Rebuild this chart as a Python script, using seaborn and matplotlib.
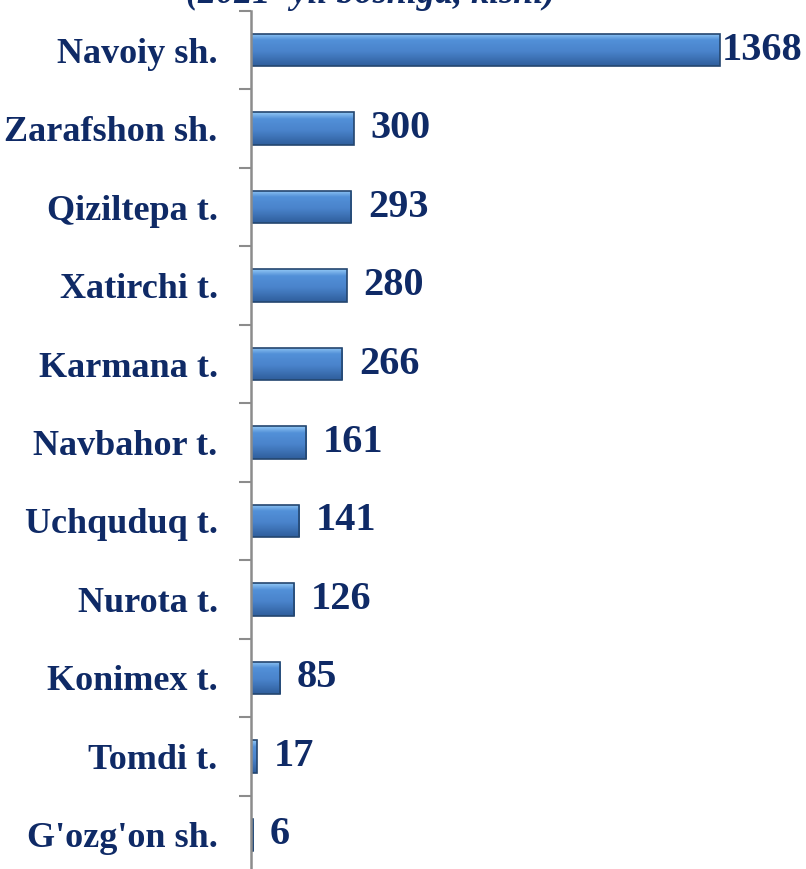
import numpy as np
import pandas as pd
import seaborn as sns
import matplotlib.pyplot as plt
from matplotlib.colors import LinearSegmentedColormap

districts = ["Navoiy sh.", "Zarafshon sh.", "Qiziltepa t.", "Xatirchi t.", "Karmana t.",
             "Navbahor t.", "Uchquduq t.", "Nurota t.", "Konimex t.", "Tomdi t.", "G'ozg'on sh."]
values = [1368, 300, 293, 280, 266, 161, 141, 126, 85, 17, 6]
title = "(2021- yil boshiga, kishi)"

df = pd.DataFrame({"district": districts, "value": values})

sns.set_style("white")
plt.rcParams['font.family'] = ['Liberation Serif', 'DejaVu Serif']
navy = "#0f2a66"

fig = plt.figure(figsize=(8.06, 8.69), dpi=100)
ax = fig.add_axes([251 / 806, -0.006, 1 - 251 / 806, 0.9936])

sns.barplot(data=df, x="value", y="district", color="#4a80c8", width=0.41,
            edgecolor="#24466f", linewidth=1.2, ax=ax)

# bevel-like gradient inside each bar (light top, darker bottom)
grad = LinearSegmentedColormap.from_list(
    "bev", [(0, "#2f5e9c"), (0.45, "#4a84cc"), (0.8, "#5290d8"), (1, "#92c8f5")])
g = np.linspace(1, 0, 64).reshape(-1, 1)
for p in ax.patches:
    x0, y0 = p.get_x(), p.get_y()
    w, h = p.get_width(), p.get_height()
    im = ax.imshow(g, cmap=grad, vmin=0, vmax=1, aspect="auto",
                   extent=(x0, x0 + w, y0 + h, y0), origin="upper",
                   zorder=p.get_zorder() + 0.1)
    im.set_clip_path(p)
    p.set_zorder(p.get_zorder() + 0.2)
    p.set_facecolor("none")

ax.set_xlim(0, 1619)
ax.set_ylim(len(districts) - 0.5, -0.5)
ax.set_xlabel("")
ax.set_ylabel("")
ax.set_xticks([])

for i, (p, v) in enumerate(zip(ax.patches, values)):
    pad = 1 if i == 0 else 12
    ax.annotate(str(v), (p.get_x() + p.get_width(), p.get_y() + p.get_height() / 2),
                xytext=(pad, 0), textcoords="offset points", va="center", ha="left",
                fontsize=29, fontweight="bold", color=navy)

for s in ["top", "right", "bottom"]:
    ax.spines[s].set_visible(False)
ax.spines["left"].set_color("#8c8c8c")
ax.spines["left"].set_linewidth(1.8)

ax.set_yticks(np.arange(-0.5, len(districts), 1), minor=True)
ax.tick_params(axis="y", which="minor", length=9, width=1.5, color="#8c8c8c", left=True)
ax.tick_params(axis="y", which="major", length=0, pad=24)
for lab in ax.get_yticklabels():
    lab.set_fontsize(26)
    lab.set_fontweight("bold")
    lab.set_color(navy)

# title is cut by the top edge, as in the source image
fig.text(371 / 806, 1 - 3 / 869, title, ha="center", va="baseline",
         fontsize=26, fontweight="bold", fontstyle="italic", color=navy)

fig.savefig("out.png", dpi=100)
